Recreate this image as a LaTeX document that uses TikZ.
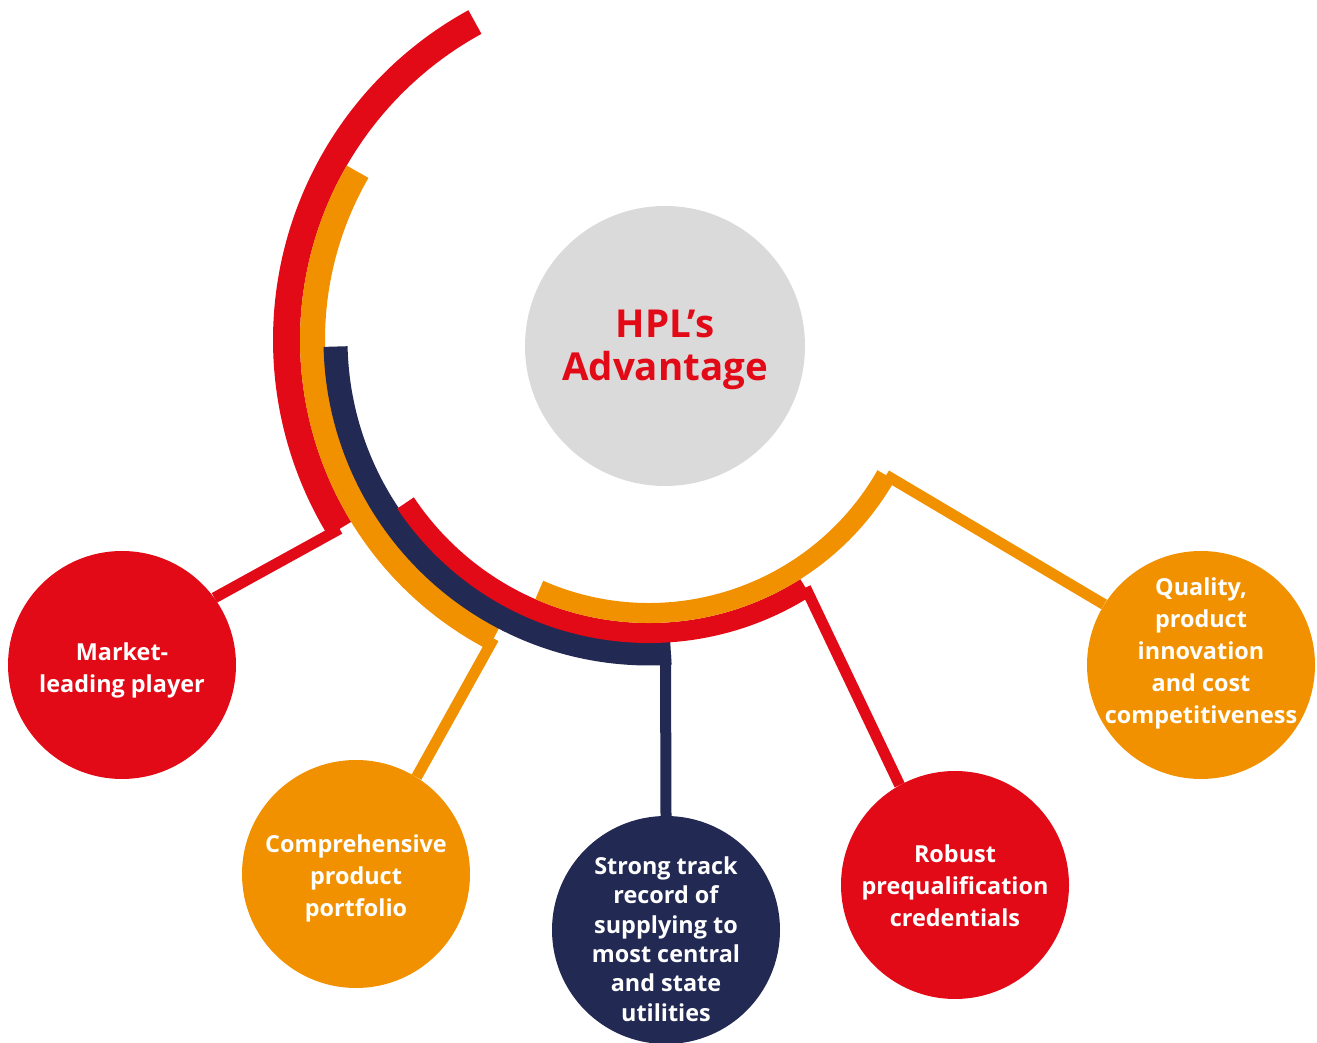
\documentclass[tikz,border=0pt]{standalone}
\usepackage{fontspec}
\setmainfont{Open Sans}
\usetikzlibrary{calc}
\definecolor{hred}{HTML}{E30A17}
\definecolor{horange}{HTML}{F29100}
\definecolor{hnavy}{HTML}{222953}
\definecolor{hgrey}{HTML}{DADADA}
\pgfdeclarelayer{bg}
\pgfsetlayers{bg,main}
\begin{document}
\begin{tikzpicture}[x=1pt,y=1pt,
  band/.style={line cap=butt},
  link/.style={line width=11pt, line cap=butt},
  bubble/.style={circle, minimum size=228pt, inner sep=0pt},
  lbl/.style={text=white, font=\bfseries\fontsize{23.4}{32}\selectfont, align=center},
]
\path[use as bounding box] (0,0) rectangle (1317,1043);
\coordinate (C) at (649,703);

% centre circle and title
\node[circle, minimum size=280pt, inner sep=0pt, fill=hgrey] (core) at (665,697) {};
\node[text=hred, font=\bfseries\fontsize{38.5}{43}\selectfont, align=center] (title) at (665,693) {HPL’s\\Advantage};

% bubbles
\node[bubble, fill=hred] (market) at (122,378) {};
\node[bubble, fill=horange] (comp) at (356,169) {};
\node[bubble, fill=hnavy] (strong) at (666,113) {};
\node[bubble, fill=hred] (robust) at (955,158) {};
\node[bubble, fill=horange] (quality) at (1201,378) {};

% bubble texts
\node[lbl] (tmarket) at (122,373) {Market-\\leading player};
\node[lbl] (tcomp) at (356,165) {Comprehensive\\product\\portfolio};
\node[lbl, font=\bfseries\fontsize{23.4}{29.3}\selectfont] (tstrong) at (666,104) {Strong track\\record of\\supplying to\\most central\\and state\\utilities};
\node[lbl] (trobust) at (955,157) {Robust\\prequalification\\credentials};
\node[lbl] (tquality) at (1201,390) {Quality,\\product\\innovation\\and cost\\competitiveness};

% arc end points
\coordinate (eA) at ($(C)+(211.4:362.5pt)$);
\coordinate (eB) at ($(C)+(242.5:336.5pt)$);
\coordinate (eC) at (665.5,388);
\coordinate (eD) at ($(C)+(302.3:293pt)$);
\coordinate (eE) at ($(C)+(330.3:273pt)$);

\begin{pgfonlayer}{bg}
% arcs
\draw[band, hred, line width=27pt] ($(C)+(118.7:362.5pt)$) arc[start angle=118.7, end angle=211.4, radius=362.5pt];
\draw[band, horange, line width=25pt] ($(C)+(150:336.5pt)$) arc[start angle=150, end angle=242.5, radius=336.5pt];
\draw[band, hnavy, line width=24pt] ($(C)+(181.2:313.5pt)$) arc[start angle=181.2, end angle=274, radius=313.5pt];
\draw[band, hred, line width=20pt] ($(C)+(213.8:293pt)$) arc[start angle=213.8, end angle=302.3, radius=293pt];
\draw[band, horange, line width=20pt] ($(C)+(246.3:273pt)$) arc[start angle=246.3, end angle=330.3, radius=273pt];
% connectors
\draw[link, hred] (eA) -- (market.36.5);
\draw[link, horange] (eB) -- (comp.58);
\draw[link, hnavy] (eC) -- (strong.north);
\draw[link, hred] (eD) -- (robust.119.5);
\draw[link, horange] (eE) -- (quality.148.8);
\end{pgfonlayer}
\end{tikzpicture}
\end{document}
